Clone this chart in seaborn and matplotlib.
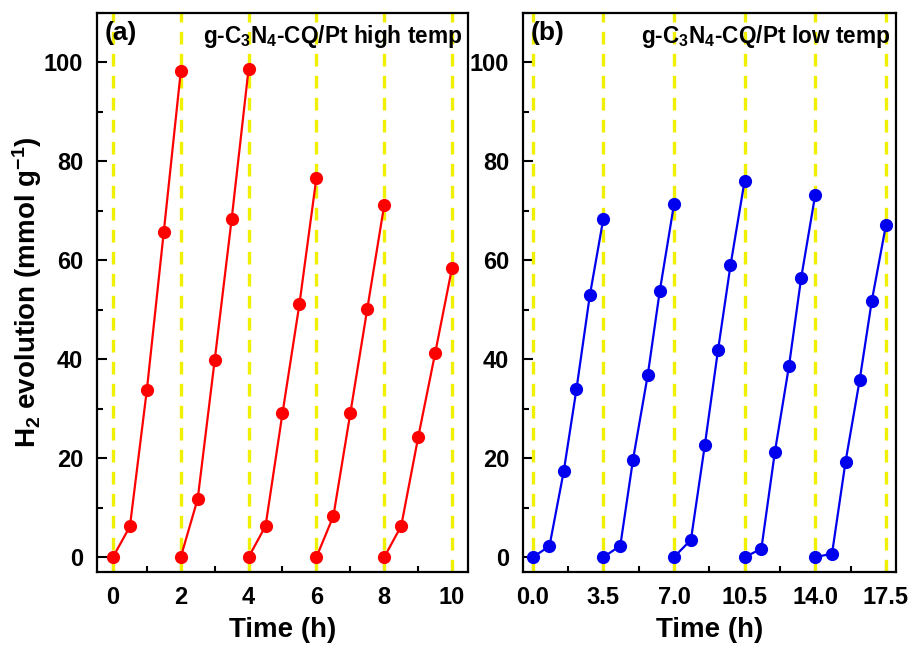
import numpy as np
import pandas as pd
import seaborn as sns
import matplotlib
matplotlib.use("Agg")
import matplotlib.pyplot as plt
from matplotlib.ticker import MultipleLocator

# ---- data ----
time_a = [0, 0.5, 1, 1.5, 2,
          2, 2.5, 3, 3.5, 4,
          4, 4.5, 5, 5.5, 6,
          6, 6.5, 7, 7.5, 8,
          8, 8.5, 9, 9.5, 10]
h2_a = [0, 6.2, 33.8, 65.8, 98.2,
        0, 11.8, 39.8, 68.3, 98.7,
        0, 6.3, 29.1, 51.2, 76.7,
        0, 8.3, 29.1, 50.2, 71.2,
        0, 6.3, 24.2, 41.2, 58.5]
cycle_a = [1]*5 + [2]*5 + [3]*5 + [4]*5 + [5]*5

time_b = [0.0, 0.83, 1.54, 2.17, 2.83, 3.5,
          3.5, 4.34, 4.97, 5.7, 6.3, 7.0,
          7.0, 7.84, 8.53, 9.18, 9.8, 10.5,
          10.5, 11.33, 12.0, 12.7, 13.3, 14.0,
          14.0, 14.83, 15.5, 16.2, 16.8, 17.5]
h2_b = [0, 2.2, 17.4, 34.0, 52.9, 68.4,
        0, 2.3, 19.7, 36.8, 53.9, 71.3,
        0, 3.5, 22.7, 41.8, 59.0, 76.1,
        0, 1.7, 21.3, 38.7, 56.4, 73.3,
        0, 0.7, 19.3, 35.8, 51.8, 67.1]
cycle_b = [1]*6 + [2]*6 + [3]*6 + [4]*6 + [5]*6

cycle_marks_a = [0, 2, 4, 6, 8, 10]
cycle_marks_b = [0, 3.5, 7.0, 10.5, 14.0, 17.5]
xticks_b = ["0.0", "3.5", "7.0", "10.5", "14.0", "17.5"]
yticks = [0, 20, 40, 60, 80, 100]

label_a = r"g-C$_{3}$N$_{4}$-CQ/Pt high temp"
label_b = r"g-C$_{3}$N$_{4}$-CQ/Pt low temp"

df_a = pd.DataFrame({"t": time_a, "h2": h2_a, "cycle": cycle_a})
df_b = pd.DataFrame({"t": time_b, "h2": h2_b, "cycle": cycle_b})

sns.set_style("ticks")
plt.rcParams["font.family"] = ["Liberation Sans", "DejaVu Sans"]
plt.rcParams["font.weight"] = "bold"
plt.rcParams["mathtext.fontset"] = "custom"
plt.rcParams["mathtext.rm"] = "Liberation Sans:bold"
plt.rcParams["mathtext.it"] = "Liberation Sans:bold"
plt.rcParams["mathtext.bf"] = "Liberation Sans:bold"
for k in ["text.color", "axes.labelcolor", "xtick.color", "ytick.color",
          "axes.edgecolor"]:
    plt.rcParams[k] = "black"

fig = plt.figure(figsize=(9.16, 6.5), dpi=100)
ax_a = fig.add_axes([97/916, 78/650, 371/916, 559/650])
ax_b = fig.add_axes([523/916, 78/650, 373/916, 559/650])

yellow = "#f0f000"

def style(ax, df, color, marks, xlim, xminor, tag, label, label_fs):
    for m in marks:
        ax.axvline(m, color=yellow, lw=2.4, ls=(0, (3.8, 2.8)), zorder=1)
    sns.lineplot(data=df, x="t", y="h2", units="cycle", estimator=None,
                 color=color, lw=1.6, marker="o", markersize=9.5,
                 markeredgewidth=0, ax=ax, zorder=3, legend=False)
    ax.set_xlim(*xlim)
    ax.set_ylim(-3, 110)
    ax.set_yticks(yticks)
    ax.yaxis.set_minor_locator(MultipleLocator(10))
    ax.xaxis.set_minor_locator(MultipleLocator(xminor))
    ax.tick_params(which="major", direction="in", length=7, width=1.5,
                   labelsize=17, pad=10)
    ax.tick_params(which="minor", direction="in", length=4, width=1.5)
    for s in ax.spines.values():
        s.set_linewidth(1.6)
        s.set_color("black")
    ax.set_xlabel("Time (h)", fontsize=20, fontweight="bold", labelpad=6)
    ax.text(0.02, 0.985, tag, transform=ax.transAxes, fontsize=19,
            fontweight="bold", va="top", ha="left")
    ax.text(0.985, 0.982, label, transform=ax.transAxes, fontsize=label_fs,
            fontweight="bold", va="top", ha="right")

style(ax_a, df_a, "#ff0000", cycle_marks_a, (-0.47, 10.47), 1, "(a)", label_a, 16.3)
ax_a.set_xticks(cycle_marks_a)
ax_a.set_ylabel(r"H$_{2}$ evolution (mmol g$^{-1}$)", fontsize=20,
                fontweight="bold", labelpad=0)

style(ax_b, df_b, "#0000ee", cycle_marks_b, (-0.48, 18.0), 1.75, "(b)", label_b, 16.3)
ax_b.set_xticks(cycle_marks_b)
ax_b.set_xticklabels(xticks_b)
ax_b.set_ylabel("")

for ax in (ax_a, ax_b):
    for lbl in ax.get_xticklabels() + ax.get_yticklabels():
        lbl.set_fontweight("bold")

fig.savefig("out.png", dpi=100)
